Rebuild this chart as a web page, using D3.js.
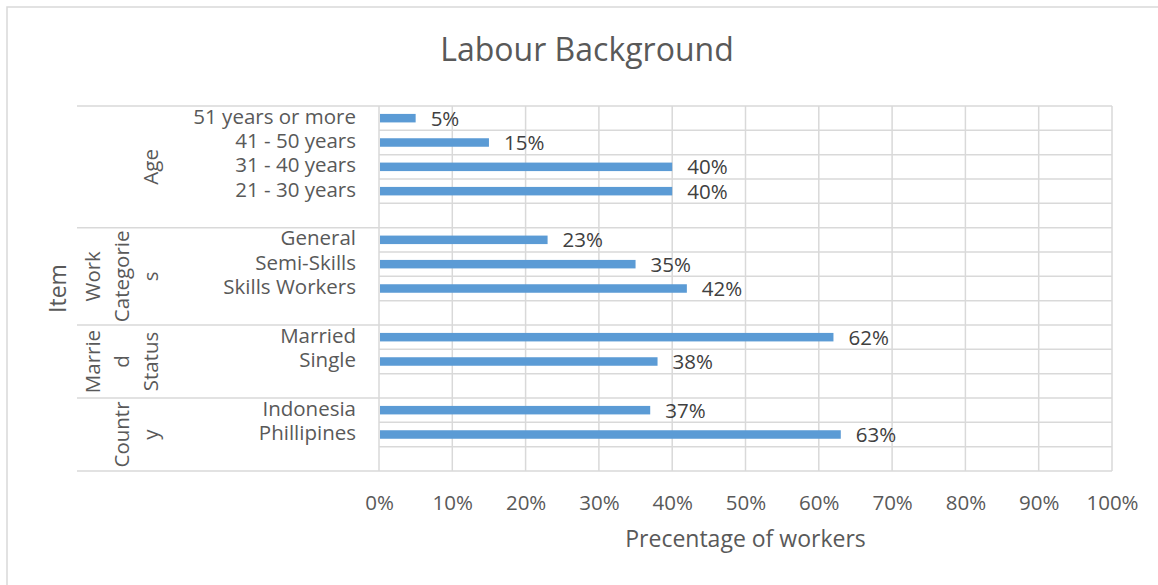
<!DOCTYPE html>
<meta charset="utf-8">
<script src="https://d3js.org/d3.v7.min.js"></script>
<style>
  body { margin: 0; background: #fff; }
  text { font-family: "Open Sans", sans-serif; }
</style>
<div id="chart"></div>
<script>
// data, top to bottom as drawn
var groupNames = ["Age", "Work Categories", "Married Status", "Country"];
var groupLines = [["Age"], ["Work", "Categorie", "s"], ["Marrie", "d", "Status"], ["Countr", "y"]];
var ageItems = ["51 years or more", "41 - 50 years", "31 - 40 years", "21 - 30 years"];
var ageValues = [5, 15, 40, 40];
var workItems = ["General", "Semi-Skills", "Skills Workers"];
var workValues = [23, 35, 42];
var maritalItems = ["Married", "Single"];
var maritalValues = [62, 38];
var countryItems = ["Indonesia", "Phillipines"];
var countryValues = [37, 63];
var xTicks = [0, 10, 20, 30, 40, 50, 60, 70, 80, 90, 100];

var W = 1158, H = 585;
var margin = {top: 106, left: 379, right: 46, bottom: 114};
var grid = "#d9d9d9", textCol = "#595959";
var fs = "20.5px";

var svg = d3.select("#chart").append("svg")
  .attr("width", W).attr("height", H);

// outer chart frame
svg.append("rect").attr("x", 7).attr("y", 7).attr("width", W + 20).attr("height", H + 20)
  .attr("fill", "none").attr("stroke", grid).attr("stroke-width", 1.5);

// build rows (each group ends with an empty row, like the sheet)
var groups = [
  {items: ageItems, values: ageValues},
  {items: workItems, values: workValues},
  {items: maritalItems, values: maritalValues},
  {items: countryItems, values: countryValues}
];
var rows = [];
groups.forEach(function(g, gi) {
  g.items.forEach(function(it, i) {
    rows.push({key: gi + "-" + i, label: it, value: g.values[i], group: gi});
  });
  rows.push({key: gi + "-blank", label: "", value: null, group: gi});
});

var x = d3.scaleLinear().domain([0, 100]).range([margin.left, W - margin.right]);
var y = d3.scaleBand().domain(rows.map(function(d) { return d.key; }))
  .range([margin.top, H - margin.bottom]).padding(0);

// vertical gridlines
svg.append("g").selectAll("line").data(xTicks).enter().append("line")
  .attr("x1", function(d) { return x(d); }).attr("x2", function(d) { return x(d); })
  .attr("y1", y.range()[0]).attr("y2", y.range()[1])
  .attr("stroke", grid).attr("stroke-width", 1.5);

// horizontal gridlines at row boundaries
var bounds = rows.map(function(d) { return y(d.key); }).concat([y.range()[1]]);
svg.append("g").selectAll("line").data(bounds).enter().append("line")
  .attr("x1", x(0)).attr("x2", x(100))
  .attr("y1", function(d) { return d; }).attr("y2", function(d) { return d; })
  .attr("stroke", grid).attr("stroke-width", 1.5);

// group separators across the label area
var groupBounds = [y.range()[0]];
rows.forEach(function(d, i) {
  if (i < rows.length - 1 && rows[i + 1].group !== d.group) groupBounds.push(y(rows[i + 1].key));
});
groupBounds.push(y.range()[1]);
svg.append("g").selectAll("line").data(groupBounds).enter().append("line")
  .attr("x1", 77).attr("x2", x(0))
  .attr("y1", function(d) { return d; }).attr("y2", function(d) { return d; })
  .attr("stroke", grid).attr("stroke-width", 1.5);

// bars
var data = rows.filter(function(d) { return d.value !== null; });
var barH = 8.5;
svg.append("g").selectAll("rect").data(data).enter().append("rect")
  .attr("x", x(0) + 1)
  .attr("y", function(d) { return y(d.key) + y.bandwidth() / 2 - barH / 2; })
  .attr("width", function(d) { return x(d.value) - x(0) - 1; })
  .attr("height", barH)
  .attr("fill", "#5b9bd5");

// data labels
svg.append("g").selectAll("text").data(data).enter().append("text")
  .attr("x", function(d) { return x(d.value) + 15; })
  .attr("y", function(d) { return y(d.key) + y.bandwidth() / 2 + 2; })
  .attr("dominant-baseline", "middle")
  .attr("fill", "#404040").style("font-size", fs)
  .text(function(d) { return d.value + "%"; });

// item labels
svg.append("g").selectAll("text").data(data).enter().append("text")
  .attr("x", 356)
  .attr("y", function(d) { return y(d.key) + y.bandwidth() / 2; })
  .attr("text-anchor", "end").attr("dominant-baseline", "middle")
  .attr("fill", textCol).style("font-size", fs)
  .text(function(d) { return d.label; });

// group labels, rotated and wrapped
groupLines.forEach(function(lines, gi) {
  var yc = (groupBounds[gi] + groupBounds[gi + 1]) / 2;
  lines.forEach(function(ln, li) {
    var xc = 153 - (lines.length - 1 - li) * 29;
    svg.append("text")
      .attr("transform", "translate(" + xc + "," + yc + ") rotate(-90)")
      .attr("text-anchor", "middle").attr("dominant-baseline", "middle")
      .attr("fill", textCol).style("font-size", fs)
      .text(ln);
  });
});

// x axis
var xAxis = svg.append("g")
  .attr("transform", "translate(0," + (y.range()[1] + 21) + ")")
  .call(d3.axisBottom(x).tickValues(xTicks).tickSize(0).tickFormat(function(d) { return d + "%"; }));
xAxis.select(".domain").remove();
xAxis.selectAll("text").attr("fill", textCol).style("font-size", fs)
  .style("font-family", "'Open Sans', sans-serif");

// titles
svg.append("text").attr("x", 587).attr("y", 52)
  .attr("text-anchor", "middle").attr("dominant-baseline", "middle")
  .attr("fill", textCol).style("font-size", "32px")
  .text("Labour Background");

svg.append("text").attr("x", (x(0) + x(100)) / 2).attr("y", 541)
  .attr("text-anchor", "middle").attr("dominant-baseline", "middle")
  .attr("fill", textCol).style("font-size", "23px")
  .text("Precentage of workers");

svg.append("text")
  .attr("transform", "translate(60," + ((y.range()[0] + y.range()[1]) / 2) + ") rotate(-90)")
  .attr("text-anchor", "middle").attr("dominant-baseline", "middle")
  .attr("fill", textCol).style("font-size", "23px")
  .text("Item");
</script>
